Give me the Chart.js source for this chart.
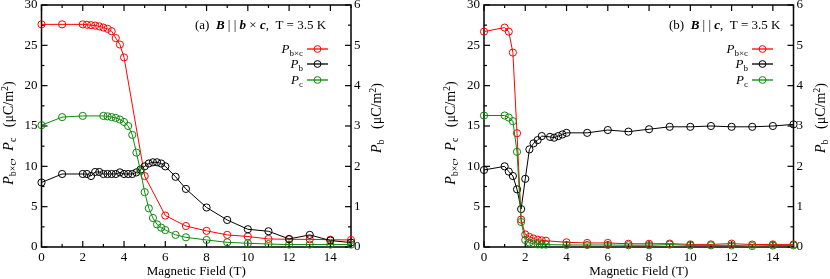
<!DOCTYPE html>
<html>
<head>
<meta charset="utf-8">
<script src="https://cdn.jsdelivr.net/npm/chart.js@4.4.1/dist/chart.umd.min.js"></script>
<style>
	html, body { margin: 0; padding: 0; background: #fff; }
	#wrap { position: relative; width: 830px; height: 279px; }
	canvas { position: absolute; top: 0; }
	#chart-a { left: 0; }
	#chart-b { left: 415px; }
</style>
</head>
<body>
<div id="wrap">
	<canvas id="chart-a" width="415" height="279"></canvas>
	<canvas id="chart-b" width="415" height="279"></canvas>
</div>
<script>
// panel (a): B || b x c, T = 3.5 K  (P_bxc and P_c on the left axis, P_b on the right axis)
const fieldA_bxc = [0, 1, 2, 2.2, 2.4, 2.6, 2.8, 3.0, 3.2, 3.4, 3.6, 3.8, 4.0, 5, 6, 7, 8, 9, 10, 11, 12, 13, 14, 15];
const polA_bxc = [27.6, 27.6, 27.6, 27.55, 27.5, 27.45, 27.35, 27.2, 27.05, 26.75, 25.9, 25.1, 23.5, 8.8, 3.9, 2.6, 2.0, 1.5, 1.3, 1.0, 0.95, 0.95, 0.9, 0.87];
const fieldA_b = [0, 1, 2, 2.2, 2.4, 2.6, 2.8, 3.0, 3.2, 3.4, 3.6, 3.8, 4.0, 4.2, 4.4, 4.6, 4.8, 5.0, 5.2, 5.4, 5.6, 5.8, 6.0, 6.5, 7, 8, 9, 10, 11, 12, 13, 14, 15];
const polA_b = [1.6, 1.81, 1.81, 1.81, 1.76, 1.86, 1.86, 1.81, 1.81, 1.81, 1.81, 1.85, 1.81, 1.81, 1.81, 1.85, 1.92, 2.0, 2.07, 2.1, 2.1, 2.07, 2.0, 1.74, 1.44, 0.98, 0.67, 0.44, 0.39, 0.2, 0.3, 0.16, 0.11];
const fieldA_c = [0, 1, 2, 3.0, 3.2, 3.4, 3.6, 3.8, 4.0, 4.2, 4.4, 4.6, 4.8, 5.0, 5.2, 5.4, 5.6, 5.8, 6.0, 6.5, 7, 8, 9, 10, 11, 12, 13, 14, 15];
const polA_c = [15.1, 16.1, 16.25, 16.25, 16.2, 16.1, 16.0, 15.8, 15.5, 15.0, 13.9, 11.7, 9.4, 6.8, 4.8, 3.6, 2.8, 2.4, 2.1, 1.5, 1.2, 0.87, 0.58, 0.46, 0.37, 0.3, 0.3, 0.3, 0.3];

// panel (b): B || c, T = 3.5 K
const fieldB_bxc = [0, 1, 1.2, 1.4, 1.6, 1.8, 2.0, 2.2, 2.4, 2.6, 2.8, 3.0, 4, 5, 6, 7, 8, 9, 10, 11, 12, 13, 14, 15];
const polB_bxc = [26.7, 27.2, 26.7, 24.1, 14.1, 3.4, 1.55, 1.25, 1.05, 0.9, 0.82, 0.78, 0.58, 0.5, 0.5, 0.4, 0.4, 0.42, 0.32, 0.32, 0.42, 0.3, 0.32, 0.32];
const fieldB_b = [0, 1, 1.2, 1.4, 1.6, 1.8, 2.0, 2.2, 2.4, 2.6, 2.8, 3.2, 3.4, 3.6, 3.8, 4.0, 5, 6, 7, 8, 9, 10, 11, 12, 13, 14, 15];
const polB_b = [1.91, 2.0, 1.87, 1.76, 1.43, 0.94, 1.69, 2.42, 2.57, 2.65, 2.75, 2.73, 2.71, 2.75, 2.79, 2.83, 2.83, 2.9, 2.86, 2.92, 2.98, 2.98, 3.0, 2.98, 2.98, 3.0, 3.04];
const fieldB_c = [0, 1, 1.2, 1.4, 1.6, 1.8, 2.0, 2.2, 2.4, 2.6, 2.8, 3.0, 4, 5, 6, 7, 8, 9, 10, 11, 12, 13, 14, 15];
const polB_c = [16.3, 16.3, 16.05, 15.6, 11.8, 3.1, 0.87, 0.55, 0.4, 0.33, 0.3, 0.3, 0.25, 0.25, 0.25, 0.22, 0.22, 0.3, 0.2, 0.2, 0.2, 0.12, 0.18, 0.2];

const fieldRange = [0, 15];
const leftRange = [0, 30];
const rightRange = [0, 6];

const RED = "#ff0000";
const BLACK = "#000000";
const GREEN = "#0a8a0a";
const SERIF = "'Liberation Serif', 'Times New Roman', serif";

function Font(style, size)
{
	return style + " " + size + "px " + SERIF;
}

	// pieces of rich text: plain, italic, bold italic, subscript, superscript
const T = (text, size = 13) => ({ text: text, font: Font("normal", size), dy: 0 });
const I = (text, size = 13) => ({ text: text, font: Font("italic", size), dy: 0 });
const BI = text => ({ text: text, font: Font("italic bold", 13), dy: 0 });
const Sub = (text, size = 9) => ({ text: text, font: Font("normal", size), dy: 3 });
const Sup = (text, size = 9) => ({ text: text, font: Font("normal", size), dy: -5.5 });

function RichText(ctx, parts, x, y, align, angle)
{
	let width = 0;
	for (const p of parts)
	{
		ctx.font = p.font;
		width += ctx.measureText(p.text).width;
	}
	ctx.save();
	ctx.translate(x, y);
	if (angle)
		ctx.rotate(angle);
	let pos = 0;
	if (align == "center")
		pos = -width / 2;
	else if (align == "right")
		pos = -width;
	ctx.fillStyle = "#000";
	ctx.textAlign = "left";
	ctx.textBaseline = "alphabetic";
	for (const p of parts)
	{
		ctx.font = p.font;
		ctx.fillText(p.text, pos, p.dy);
		pos += ctx.measureText(p.text).width;
	}
	ctx.restore();
}

function Series(xs, ys, color, axis)
{
	return {
		data: xs.map((x, i) => ({ x: x, y: ys[i] })),
		yAxisID: axis,
		borderColor: color,
		borderWidth: 1,
		pointRadius: 3.6,
		pointBorderWidth: 1,
		pointBorderColor: color,
		pointBackgroundColor: "rgba(0,0,0,0)",
		pointStyle: "circle",
		tension: 0,
		fill: false,
		clip: false,
	};
}

function DrawTicks(ctx, scale, step, majorEvery, side, area)
{
	const n = Math.round((scale.max - scale.min) / step);
	for (let i = 0; i <= n; i++)
	{
		const v = scale.min + i * step;
		const len = (i % majorEvery == 0) ? 6 : 3;
		const p = scale.getPixelForValue(v);
		ctx.beginPath();
		if (side == "bottom") { ctx.moveTo(p, area.bottom); ctx.lineTo(p, area.bottom - len); }
		if (side == "top") { ctx.moveTo(p, area.top); ctx.lineTo(p, area.top + len); }
		if (side == "left") { ctx.moveTo(area.left, p); ctx.lineTo(area.left + len, p); }
		if (side == "right") { ctx.moveTo(area.right, p); ctx.lineTo(area.right - len, p); }
		ctx.stroke();
	}
}

function MakeDecor(panel)
{
	return {
		id: "decor",
		beforeDatasetsDraw(chart)
		{
			const ctx = chart.ctx;
			const a = chart.chartArea;
			ctx.save();
			ctx.strokeStyle = "#000";
			ctx.lineWidth = 1.5;
			ctx.strokeRect(a.left, a.top, a.right - a.left, a.bottom - a.top);
			ctx.lineWidth = 1.2;
			DrawTicks(ctx, chart.scales.x, 1, 2, "bottom", a);
			DrawTicks(ctx, chart.scales.x, 1, 2, "top", a);
			DrawTicks(ctx, chart.scales.y, 2.5, 2, "left", a);
			DrawTicks(ctx, chart.scales.y2, 0.5, 2, "right", a);
			ctx.restore();
		},
		afterDraw(chart)
		{
			const ctx = chart.ctx;
			const a = chart.chartArea;

				// axis titles
			RichText(ctx, [T("Magnetic Field (T)")], (a.left + a.right) / 2, 275, "center");
			RichText(ctx, [I("P", 14), Sub("b×c", 10), T(",  ", 14), I("P", 14), Sub("c", 10), T("   (μC/m", 14), Sup("2", 10), T(")", 14)],
					panel.leftTitleX, 133, "center", -Math.PI / 2);
			RichText(ctx, [I("P", 14), Sub("b", 10), T("   (μC/m", 14), Sup("2", 10), T(")", 14)],
					panel.rightTitleX, 118, "center", -Math.PI / 2);

				// panel note
			RichText(ctx, panel.note, panel.noteX, 29, "left");

				// legend: label on the left, line with marker on the right
			const rows = [
				{ parts: [I("P"), Sub("b×c")], color: RED, y: 49 },
				{ parts: [I("P"), Sub("b")], color: BLACK, y: 64 },
				{ parts: [I("P"), Sub("c")], color: GREEN, y: 80 },
			];
			for (const r of rows)
			{
				RichText(ctx, r.parts, panel.legendX, r.y + 3.5, "right");
				ctx.save();
				ctx.strokeStyle = r.color;
				ctx.lineWidth = 1.3;
				ctx.beginPath();
				ctx.moveTo(panel.legendX + 4, r.y);
				ctx.lineTo(panel.legendX + 25, r.y);
				ctx.stroke();
				ctx.lineWidth = 1;
				ctx.beginPath();
				ctx.arc(panel.legendX + 14.5, r.y, 3.4, 0, Math.PI * 2);
				ctx.stroke();
				ctx.restore();
			}
		}
	};
}

function MakeChart(id, panel, datasets)
{
	const tickFont = { family: SERIF, size: 13 };
	return new Chart(document.getElementById(id), {
		type: "line",
		data: { datasets: datasets },
		options: {
			responsive: false,
			animation: false,
			events: [],
			layout: { padding: { top: 5, left: 0, right: 0, bottom: 0 } },
			plugins: {
				legend: { display: false },
				tooltip: { enabled: false },
				title: { display: false },
			},
			scales: {
				x: {
					type: "linear",
					position: "bottom",
					min: fieldRange[0],
					max: fieldRange[1],
					ticks: { stepSize: 2, includeBounds: false, color: "#000", font: tickFont, padding: 3, maxRotation: 0 },
					grid: { display: false, drawTicks: false },
					border: { display: false },
					afterFit(s) { s.height = 32; s.paddingLeft = 0; s.paddingRight = 0; },
				},
				y: {
					type: "linear",
					position: "left",
					min: leftRange[0],
					max: leftRange[1],
					ticks: { stepSize: 5, color: "#000", font: tickFont, padding: 4 },
					grid: { display: false, drawTicks: false },
					border: { display: false },
					afterFit(s) { s.width = panel.leftW; s.paddingTop = 0; s.paddingBottom = 0; },
				},
				y2: {
					type: "linear",
					position: "right",
					min: rightRange[0],
					max: rightRange[1],
					ticks: { stepSize: 1, color: "#000", font: tickFont, padding: 3 },
					grid: { display: false, drawTicks: false },
					border: { display: false },
					afterFit(s) { s.width = panel.rightW; s.paddingTop = 0; s.paddingBottom = 0; },
				},
			},
		},
		plugins: [ MakeDecor(panel) ],
	});
}

const panelA = {
	leftW: 41.5, rightW: 64,
	leftTitleX: 13, rightTitleX: 381,
	noteX: 195,
	note: [T("(a)  "), BI("B"), T(" | | "), BI("b"), T(" × "), BI("c"), T(",  T = 3.5 K")],
	legendX: 303,
};
const panelB = {
	leftW: 69, rightW: 36.5,
	leftTitleX: 40, rightTitleX: 410,
	noteX: 254,
	note: [T("(b)  "), BI("B"), T(" | | "), BI("c"), T(",  T = 3.5 K")],
	legendX: 333,
};

	// green first so it is drawn on top
MakeChart("chart-a", panelA, [
	Series(fieldA_c, polA_c, GREEN, "y"),
	Series(fieldA_b, polA_b, BLACK, "y2"),
	Series(fieldA_bxc, polA_bxc, RED, "y"),
]);
MakeChart("chart-b", panelB, [
	Series(fieldB_c, polB_c, GREEN, "y"),
	Series(fieldB_b, polB_b, BLACK, "y2"),
	Series(fieldB_bxc, polB_bxc, RED, "y"),
]);
</script>
</body>
</html>
